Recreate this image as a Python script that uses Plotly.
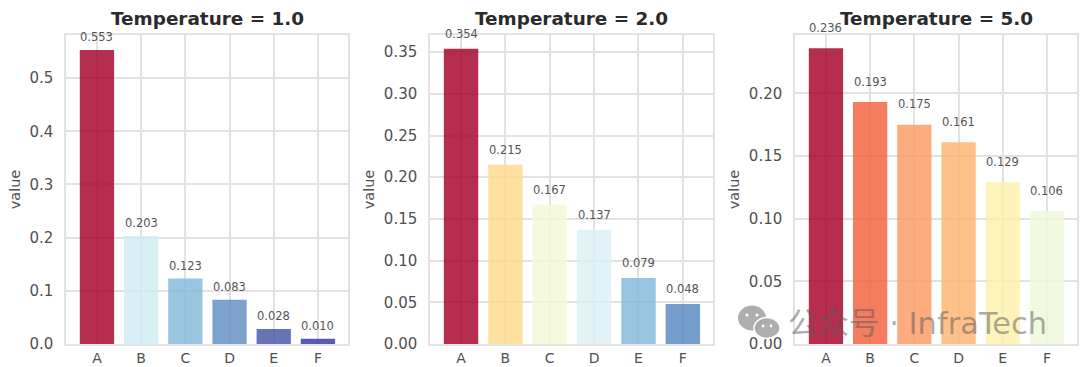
import plotly.graph_objects as go

categories = ["A", "B", "C", "D", "E", "F"]
temps = ["Temperature = 1.0", "Temperature = 2.0", "Temperature = 5.0"]
values_t1 = [0.553, 0.203, 0.123, 0.083, 0.028, 0.010]
values_t2 = [0.354, 0.215, 0.167, 0.137, 0.079, 0.048]
values_t5 = [0.236, 0.193, 0.175, 0.161, 0.129, 0.106]
colors_t1 = ["#a50026", "#d1ecf4", "#84b8d9", "#5f8ec2", "#4357a8", "#3538a0"]
colors_t2 = ["#a50026", "#fedb8a", "#f3f9d5", "#dcf0f6", "#84b8d9", "#5688c0"]
colors_t5 = ["#a50026", "#f0603a", "#fb9a62", "#fdb56f", "#fef1ac", "#eef8d8"]
y_tops = [0.581, 0.3705, 0.2465]
y_ticks = [[0, 0.1, 0.2, 0.3, 0.4, 0.5],
           [0, 0.05, 0.10, 0.15, 0.20, 0.25, 0.30, 0.35],
           [0, 0.05, 0.10, 0.15, 0.20]]
tick_fmt = [".1f", ".2f", ".2f"]
label_shift = [13, 15, 20.5]
all_values = [values_t1, values_t2, values_t5]
all_colors = [colors_t1, colors_t2, colors_t5]
lefts = [66 / 1080, 430 / 1080, 795 / 1080]
rights = [348 / 1080, 713 / 1080, 1077 / 1080]
standoffs = [5, 6, 6]
PT = 35 / 367
PB = 344 / 367
GRID = "#e2e2e2"
TXT = "#505050"
CLEAR = "rgba(0,0,0,0)"

fig = go.Figure()
for i in range(3):
    sfx = "" if i == 0 else str(i + 1)
    fig.add_trace(go.Bar(x=categories, y=all_values[i], marker_color=all_colors[i],
                         marker_opacity=0.82, marker_line_width=0, width=0.776,
                         xaxis="x" + sfx, yaxis="y" + sfx, showlegend=False))
    ax = dict(domain=[lefts[i], rights[i]], anchor="y" + sfx, type="category",
              categoryorder="array", categoryarray=categories, range=[-0.70, 5.68],
              showgrid=True, gridcolor=GRID, gridwidth=1.5, linecolor=GRID,
              linewidth=1.5, mirror=True, ticks="", 
              tickfont=dict(size=14, color=TXT), automargin=False, layer="below traces")
    ay = dict(domain=[1 - PB, 1 - PT], anchor="x" + sfx, range=[0, y_tops[i]],
              tickvals=y_ticks[i], tickformat=tick_fmt[i], showgrid=True,
              gridcolor=GRID, gridwidth=1.5, linecolor=GRID, linewidth=1.5,
              mirror=True, zeroline=False, ticks="outside", ticklen=8, tickcolor=CLEAR,
              tickfont=dict(size=15, color=TXT), automargin=False,
              title=dict(text="value", font=dict(size=14.5, color=TXT), standoff=standoffs[i]))
    fig.layout["xaxis" + sfx] = ax
    fig.layout["yaxis" + sfx] = ay
    for c, v in zip(categories, all_values[i]):
        fig.add_annotation(x=c, y=v, xref="x" + sfx, yref="y" + sfx, text=f"{v:.3f}",
                           showarrow=False, yanchor="middle", yshift=label_shift[i],
                           font=dict(size=11.5, color="#555555"))
    fig.add_annotation(x=(lefts[i] + rights[i]) / 2, y=1 - 19 / 367, xref="paper", yref="paper",
                       text=f"<b>{temps[i]}</b>", showarrow=False, xanchor="center", yanchor="middle",
                       font=dict(size=18.4, color="#2b2b2b"))

fig.add_annotation(x=786 / 1080, y=1 - 323 / 367, xref="paper", yref="paper",
                   text="公众号 · InfraTech", showarrow=False, xanchor="left", yanchor="middle",
                   font=dict(size=30.5, color="rgba(90,90,90,0.5)",
                             family="DejaVu Sans, Noto Sans CJK SC"))
for cx, cy, rx, ry, col, ln in [(752, 318, 14, 12.5, "rgba(170,170,170,0.95)", 0),
                                (767, 328, 13, 10.5, "rgba(170,170,170,0.95)", 1.5),
                                (747, 315, 1.6, 1.6, "white", 0), (757, 315, 1.6, 1.6, "white", 0),
                                (763, 326, 1.4, 1.4, "white", 0), (771, 326, 1.4, 1.4, "white", 0)]:
    fig.add_shape(type="circle", xref="paper", yref="paper",
                  x0=(cx - rx) / 1080, x1=(cx + rx) / 1080,
                  y0=1 - (cy + ry) / 367, y1=1 - (cy - ry) / 367,
                  fillcolor=col, line=dict(color="white", width=ln))

fig.update_layout(width=1080, height=367, autosize=False, paper_bgcolor="white",
                  plot_bgcolor="white", margin=dict(l=0, r=0, t=0, b=0),
                  font=dict(family="DejaVu Sans"))
fig.write_html("out.html", config={"displayModeBar": False},
               post_script="document.body.style.margin='0';document.body.style.overflow='hidden';")
